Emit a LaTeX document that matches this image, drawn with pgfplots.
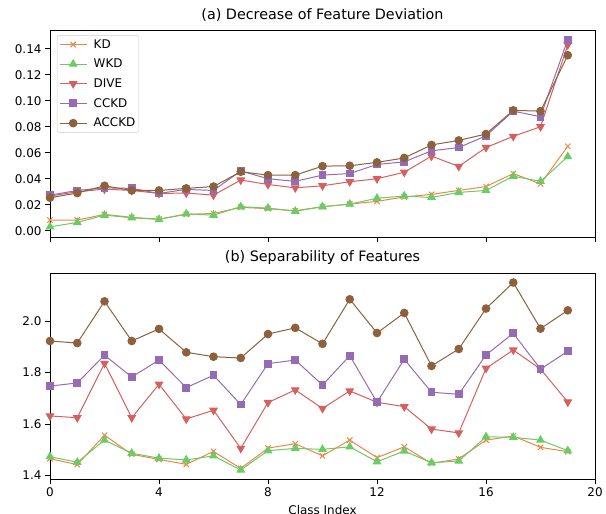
\documentclass[border=0pt]{standalone}
\usepackage{fontspec}
\setmainfont{DejaVu Sans}
\usepackage{pgfplots}
\pgfplotsset{compat=1.18}
\definecolor{cKD}{HTML}{EE854A}
\definecolor{cWKD}{HTML}{6ACC64}
\definecolor{cDIVE}{HTML}{D65F5F}
\definecolor{cCCKD}{HTML}{956CB4}
\definecolor{cACCKD}{HTML}{8C613C}
\pgfplotsset{
  myaxis/.style={
    scale only axis, width=545bp,
    xmin=0, xmax=20, xtick={0,4,...,20},
    tick align=outside, tick pos=left,
    major tick length=5bp,
    every tick/.style={black, line width=0.8bp},
    axis line style={line width=0.8bp},
    /pgf/number format/assume math mode=true,
    tick label style={font=\fontsize{12}{14}\selectfont},
    title style={font=\fontsize{14.4}{17}\selectfont, inner sep=0pt, yshift=2.5bp},
    label style={font=\fontsize{12}{14}\selectfont},
    every axis plot/.append style={line width=1bp},
  },
  pKD/.style={color=cKD, mark=x, mark size=3.8bp, mark options={line width=1bp}},
  pWKD/.style={color=cWKD, mark=triangle*, mark size=4.2bp},
  pDIVE/.style={color=cDIVE, mark=triangle*, mark size=4.2bp, mark options={rotate=180}},
  pCCKD/.style={color=cCCKD, mark=square*, mark size=3.4bp},
  pACCKD/.style={color=cACCKD, mark=*, mark size=3.8bp},
}
\begin{document}
\begin{tikzpicture}[x=1bp,y=1bp]
\useasboundingbox (0,0) rectangle (606,-514);
\begin{axis}[myaxis,
  at={(50bp,-237bp)}, anchor=south west, height=207bp,
  ymin=-0.0048, ymax=0.1544,
  ytick={0,0.02,...,0.141},
  yticklabel style={/pgf/number format/.cd, fixed, fixed zerofill, precision=2},
  xticklabels={},
  title={(a) Decrease of Feature Deviation},
  legend style={at={(0.0128,0.975)}, anchor=north west, draw=black!20, rounded corners=2bp,
    font=\fontsize{12}{14}\selectfont, inner xsep=2bp, inner ysep=2.5bp, row sep=6.4bp,
    column sep=5bp, nodes={inner sep=1.5bp}},
  legend cell align=left,
  legend image code/.code={\draw[mark repeat=2,mark phase=2] plot coordinates {(0bp,0bp) (13.5bp,0bp) (27bp,0bp)};},
]
\addplot[pKD] coordinates {(0,0.0082)(1,0.0082)(2,0.0126)(3,0.0103)(4,0.0090)(5,0.0126)(6,0.0133)(7,0.0180)(8,0.0170)(9,0.0154)(10,0.0185)(11,0.0205)(12,0.0226)(13,0.0260)(14,0.0280)(15,0.0310)(16,0.0340)(17,0.0440)(18,0.0360)(19,0.0650)};
\addlegendentry{KD}
\addplot[pWKD] coordinates {(0,0.0030)(1,0.0064)(2,0.0120)(3,0.0100)(4,0.0087)(5,0.0130)(6,0.0120)(7,0.0185)(8,0.0174)(9,0.0150)(10,0.0185)(11,0.0205)(12,0.0250)(13,0.0267)(14,0.0256)(15,0.0295)(16,0.0310)(17,0.0420)(18,0.0380)(19,0.0570)};
\addlegendentry{WKD}
\addplot[pDIVE] coordinates {(0,0.0267)(1,0.0300)(2,0.0320)(3,0.0310)(4,0.0287)(5,0.0290)(6,0.0274)(7,0.0390)(8,0.0356)(9,0.0330)(10,0.0346)(11,0.0377)(12,0.0400)(13,0.0450)(14,0.0574)(15,0.0495)(16,0.0640)(17,0.0726)(18,0.0800)(19,0.1430)};
\addlegendentry{DIVE}
\addplot[pCCKD] coordinates {(0,0.0274)(1,0.0310)(2,0.0330)(3,0.0326)(4,0.0287)(5,0.0318)(6,0.0310)(7,0.0460)(8,0.0400)(9,0.0380)(10,0.0428)(11,0.0440)(12,0.0510)(13,0.0530)(14,0.0615)(15,0.0640)(16,0.0730)(17,0.0920)(18,0.0877)(19,0.1470)};
\addlegendentry{CCKD}
\addplot[pACCKD] coordinates {(0,0.0254)(1,0.0290)(2,0.0346)(3,0.0310)(4,0.0310)(5,0.0326)(6,0.0340)(7,0.0454)(8,0.0428)(9,0.0428)(10,0.0497)(11,0.0500)(12,0.0526)(13,0.0560)(14,0.0660)(15,0.0695)(16,0.0744)(17,0.0926)(18,0.0920)(19,0.1350)};
\addlegendentry{ACCKD}
\end{axis}
\begin{axis}[myaxis,
  at={(50bp,-479bp)}, anchor=south west, height=206bp,
  ymin=1.386, ymax=2.186,
  ytick={1.4,1.6,1.8,2.0},
  yticklabel style={/pgf/number format/.cd, fixed, fixed zerofill, precision=1},
  title={(b) Separability of Features},
  xlabel={Class Index},
  xlabel style={yshift=-2bp},
]
\addplot[pKD] coordinates {(0,1.465)(1,1.442)(2,1.556)(3,1.482)(4,1.462)(5,1.443)(6,1.493)(7,1.427)(8,1.506)(9,1.523)(10,1.476)(11,1.537)(12,1.469)(13,1.511)(14,1.447)(15,1.464)(16,1.537)(17,1.553)(18,1.509)(19,1.492)};
\addplot[pWKD] coordinates {(0,1.473)(1,1.451)(2,1.537)(3,1.486)(4,1.467)(5,1.460)(6,1.476)(7,1.421)(8,1.496)(9,1.505)(10,1.501)(11,1.511)(12,1.453)(13,1.495)(14,1.449)(15,1.456)(16,1.550)(17,1.548)(18,1.537)(19,1.496)};
\addplot[pDIVE] coordinates {(0,1.631)(1,1.624)(2,1.835)(3,1.624)(4,1.754)(5,1.619)(6,1.653)(7,1.505)(8,1.683)(9,1.732)(10,1.660)(11,1.728)(12,1.684)(13,1.667)(14,1.580)(15,1.565)(16,1.816)(17,1.887)(18,1.813)(19,1.685)};
\addplot[pCCKD] coordinates {(0,1.747)(1,1.759)(2,1.867)(3,1.782)(4,1.848)(5,1.741)(6,1.789)(7,1.675)(8,1.834)(9,1.848)(10,1.751)(11,1.865)(12,1.684)(13,1.851)(14,1.723)(15,1.715)(16,1.868)(17,1.952)(18,1.813)(19,1.882)};
\addplot[pACCKD] coordinates {(0,1.922)(1,1.914)(2,2.076)(3,1.922)(4,1.969)(5,1.878)(6,1.861)(7,1.856)(8,1.949)(9,1.973)(10,1.911)(11,2.084)(12,1.953)(13,2.031)(14,1.825)(15,1.891)(16,2.048)(17,2.149)(18,1.970)(19,2.041)};
\end{axis}
\end{tikzpicture}
\end{document}
